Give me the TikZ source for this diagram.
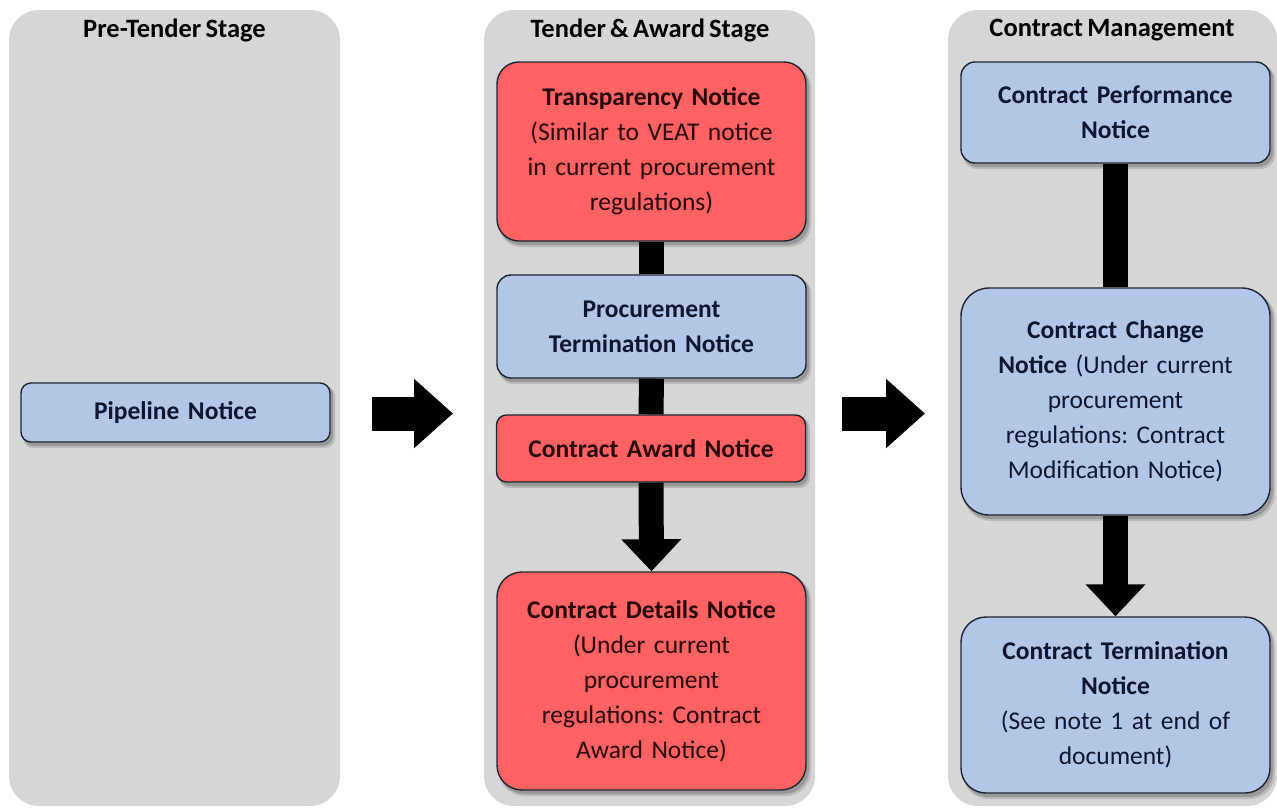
\documentclass[tikz,border=0pt]{standalone}
\usepackage{fontspec}
\setmainfont{Carlito}[WordSpace=0.7]
\usetikzlibrary{arrows.meta,calc}
\definecolor{panelgray}{HTML}{D6D6D6}
\definecolor{boxblue}{HTML}{B4C6E7}
\definecolor{boxred}{HTML}{FF6262}
\definecolor{bluetext}{HTML}{0E1630}
\definecolor{redtext}{HTML}{2A0808}
\definecolor{edgecol}{HTML}{1E2530}
\tikzset{
  panel/.style={fill=panelgray, draw=none, rounded corners=30pt},
  paneltitle/.style={font=\fontsize{26.5}{30}\selectfont\bfseries, text=black, anchor=center},
  notice/.style={draw=edgecol, line width=1.4pt, minimum width=309pt, align=center,
    inner sep=0pt, font=\fontsize{25.5}{35}\selectfont, text width=305pt},
  bluebox/.style={notice, fill=boxblue, text=bluetext},
  redbox/.style={notice, fill=boxred, text=redtext},
  bar/.style={line width=25pt, black},
  downarrow/.style={line width=25pt, black, -{Triangle[width=58pt,length=32pt]}},
  bigarrow/.style={line width=34pt, black, -{Triangle[width=67pt,length=39pt]}}
}
\frenchspacing
\begin{document}
\begin{tikzpicture}[x=1pt,y=-1pt]
\useasboundingbox (0,0) rectangle (1277,807);
\fill[white] (0,0) rectangle (1277,807);
% panels
\fill[panel] (9,10) rectangle (340,806);
\fill[panel] (484,10) rectangle (815,806);
\fill[panel] (948,10) rectangle (1277,806);
\node[paneltitle] (t1) at (174.5,30) {Pre-Tender Stage};
\node[paneltitle] (t2) at (650,30) {Tender \& Award Stage};
\node[paneltitle] (t3) at (1112,30) {Contract Management};

% shadows
\foreach \xa/\ya/\xb/\yb/\r in {21/383/330/442/10, 497/62/806/241/22, 497/275/806/378/14, 497/415/805/482/10, 497/572/806/790/25, 961/62/1270/163/14, 961/288/1270/515/28, 961/617/1270/793/25}{
  \fill[black, opacity=0.12, rounded corners=\r pt] (\xa+2,\ya+3) rectangle (\xb+5,\yb+6);
  \fill[black, opacity=0.18, rounded corners=\r pt] (\xa+2,\ya+2) rectangle (\xb+3,\yb+4);
}

% nodes
\node[bluebox, minimum height=59pt, rounded corners=10pt] (pipe) at (175.5,412.5) {\bfseries Pipeline Notice};
\node[redbox, minimum height=179pt, rounded corners=22pt] (trans) at (651.5,151.5)
  {\textbf{Transparency Notice}\\(Similar to VEAT notice\\in current procurement\\regulations)};
\node[bluebox, minimum height=103pt, rounded corners=14pt] (proc) at (651.5,326.5)
  {\textbf{Procurement}\\\textbf{Termination Notice}};
\node[redbox, minimum height=67pt, rounded corners=10pt] (award) at (651,448.5)
  {\textbf{Contract Award Notice}};
\node[redbox, minimum height=218pt, rounded corners=25pt] (details) at (651.5,681)
  {\textbf{Contract Details Notice}\\(Under current\\procurement\\regulations: Contract\\Award Notice)};
\node[bluebox, minimum height=101pt, rounded corners=14pt] (perf) at (1115.5,112.5)
  {\textbf{Contract Performance}\\\textbf{Notice}};
\node[bluebox, minimum height=227pt, rounded corners=28pt] (change) at (1115.5,401.5)
  {\textbf{Contract Change}\\\textbf{Notice} (Under current\\procurement\\regulations: Contract\\Modification Notice)};
\node[bluebox, minimum height=176pt, rounded corners=25pt] (term) at (1115.5,705)
  {\textbf{Contract Termination}\\\textbf{Notice}\\(See note 1 at end of\\document)};

% vertical connectors
\draw[bar] (trans.south) -- (proc.north);
\draw[bar] (proc.south) -- (award.north);
\draw[downarrow] (award.south) -- (details.north);
\draw[bar] (perf.south) -- (change.north);
\draw[downarrow] (change.south) -- (term.north);

% big arrows between stages
\coordinate (a1s) at (372,413.5);
\coordinate (a1e) at (453,413.5);
\coordinate (a2s) at (842,413.5);
\coordinate (a2e) at (925,413.5);
\draw[bigarrow] (a1s) -- (a1e);
\draw[bigarrow] (a2s) -- (a2e);
\end{tikzpicture}
\end{document}
